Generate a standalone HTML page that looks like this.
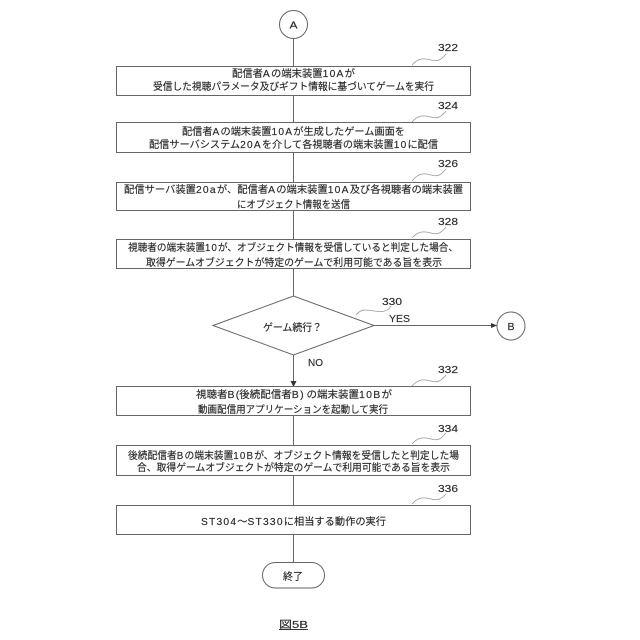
<!DOCTYPE html>
<html>
<head>
<meta charset="utf-8">
<style>
html,body{margin:0;padding:0;background:#fff;width:640px;height:640px;overflow:hidden}
svg{display:block}
text{font-family:"Liberation Sans","Noto Sans CJK JP",sans-serif;font-size:10px;fill:#2a2a2a;stroke:#2a2a2a;stroke-width:.15}
.l{letter-spacing:1.2px}
.s{fill:none;stroke:#666;stroke-width:1}
.b{fill:#fff;stroke:#666;stroke-width:1}
.q{fill:none;stroke:#999;stroke-width:.8}
</style>
</head>
<body>
<svg width="640" height="640" viewBox="0 0 640 640" xmlns="http://www.w3.org/2000/svg">
<rect width="640" height="640" fill="#fff"/>
<path class="s" d="M293.500 38V66M293.500 95V123M293.500 153V182M293.500 210V239M293.500 268V296M293.500 355V381M293.500 416V445M293.500 475V505M293.500 535V562M374 325.500H497"/>
<path d="M290.500 381h6l-3 6z" fill="#333"/>
<path d="M491 323l6 2.500-6 2.500z" fill="#333"/>
<circle class="b" cx="293.500" cy="24.500" r="14"/>
<circle class="b" cx="511" cy="326" r="14"/>
<rect class="b" x="116.500" y="66.500" width="354" height="29"/>
<rect class="b" x="116.500" y="122.500" width="354" height="30"/>
<rect class="b" x="116.500" y="182.500" width="354" height="28"/>
<rect class="b" x="116.500" y="239.500" width="354" height="29"/>
<rect class="b" x="116.500" y="386.500" width="354" height="29"/>
<rect class="b" x="116.500" y="445.500" width="354" height="30"/>
<rect class="b" x="116.500" y="505.500" width="354" height="29"/>
<path class="b" d="M213 325.500L293.500 296L374 325.500L293.500 355Z"/>
<rect class="b" x="262.500" y="562.500" width="62" height="25.500" rx="12.700"/>
<g class="q">
<path class="q" d="M412 65C418 58 424 58 431 60S441 60 446 54"/>
<path class="q" d="M412 122C418 115 424 115 431 117S441 117 446 111"/>
<path class="q" d="M412 181C418 173 424 173 431 175S441 175 446 169"/>
<path class="q" d="M412 238C418 231 424 231 431 233S441 233 446 227"/>
<path class="q" d="M356 315C362 308 366 310 374 311S388 312 391 306"/>
<path class="q" d="M412 386C418 379 424 379 431 381S441 381 446 375"/>
<path class="q" d="M412 444C418 437 424 437 431 439S441 439 446 433"/>
<path class="q" d="M412 504C418 497 424 497 431 499S441 499 446 494"/>
</g>
<text x="289.500" y="28.500" textLength="8" lengthAdjust="spacingAndGlyphs">A</text>
<text x="507.500" y="330" textLength="7" lengthAdjust="spacingAndGlyphs">B</text>
<text x="438" y="51" textLength="20" lengthAdjust="spacingAndGlyphs">322</text>
<text x="438" y="109" textLength="20" lengthAdjust="spacingAndGlyphs">324</text>
<text x="438" y="167" textLength="20" lengthAdjust="spacingAndGlyphs">326</text>
<text x="438" y="225" textLength="20" lengthAdjust="spacingAndGlyphs">328</text>
<text x="382" y="305" textLength="20" lengthAdjust="spacingAndGlyphs">330</text>
<text x="438" y="373" textLength="20" lengthAdjust="spacingAndGlyphs">332</text>
<text x="438" y="432" textLength="20" lengthAdjust="spacingAndGlyphs">334</text>
<text x="438" y="492" textLength="20" lengthAdjust="spacingAndGlyphs">336</text>
<text x="389" y="322" textLength="21" lengthAdjust="spacingAndGlyphs">YES</text>
<text x="308" y="366" textLength="15" lengthAdjust="spacingAndGlyphs">NO</text>
<text x="232" y="77" textLength="123" lengthAdjust="spacingAndGlyphs">配信者<tspan class="l">A</tspan>の端末装置<tspan class="l">10A</tspan>が</text>
<text x="153" y="90" textLength="281" lengthAdjust="spacingAndGlyphs">受信した視聴パラメータ及びギフト情報に基づいてゲームを実行</text>
<text x="182" y="135" textLength="223" lengthAdjust="spacingAndGlyphs">配信者<tspan class="l">A</tspan>の端末装置<tspan class="l">10A</tspan>が生成したゲーム画面を</text>
<text x="149" y="148" textLength="289" lengthAdjust="spacingAndGlyphs">配信サーバシステム<tspan class="l">20A</tspan>を介して各視聴者の端末装置<tspan class="l">10</tspan>に配信</text>
<text x="124" y="193" textLength="339" lengthAdjust="spacingAndGlyphs">配信サーバ装置<tspan class="l">20a</tspan>が、配信者<tspan class="l">A</tspan>の端末装置<tspan class="l">10A</tspan>及び各視聴者の端末装置</text>
<text x="237" y="208" textLength="113" lengthAdjust="spacingAndGlyphs">にオブジェクト情報を送信</text>
<text x="128" y="251" textLength="330" lengthAdjust="spacingAndGlyphs">視聴者の端末装置<tspan class="l">10</tspan>が、オブジェクト情報を受信していると判定した場合、</text>
<text x="146" y="266" textLength="296" lengthAdjust="spacingAndGlyphs">取得ゲームオブジェクトが特定のゲームで利用可能である旨を表示</text>
<text x="263" y="331" textLength="59" lengthAdjust="spacingAndGlyphs">ゲーム続行？</text>
<text x="196" y="398" textLength="196" lengthAdjust="spacingAndGlyphs">視聴者<tspan class="l">B</tspan>(後続配信者<tspan class="l">B</tspan>) の端末装置<tspan class="l">10B</tspan>が</text>
<text x="198" y="413" textLength="190" lengthAdjust="spacingAndGlyphs">動画配信用アプリケーションを起動して実行</text>
<text x="128" y="459" textLength="331" lengthAdjust="spacingAndGlyphs">後続配信者<tspan class="l">B</tspan>の端末装置<tspan class="l">10B</tspan>が、オブジェクト情報を受信したと判定した場</text>
<text x="137" y="471" textLength="313" lengthAdjust="spacingAndGlyphs">合、取得ゲームオブジェクトが特定のゲームで利用可能である旨を表示</text>
<text x="201" y="525" textLength="185" lengthAdjust="spacingAndGlyphs"><tspan class="l">ST304</tspan>～<tspan class="l">ST330</tspan>に相当する動作の実行</text>
<text x="283" y="580" textLength="20" lengthAdjust="spacingAndGlyphs">終了</text>
<text x="279" y="628" textLength="29" lengthAdjust="spacingAndGlyphs">図5B</text>
<path d="M279 629.500H308" stroke="#333" stroke-width="1"/>
</svg>
</body>
</html>
